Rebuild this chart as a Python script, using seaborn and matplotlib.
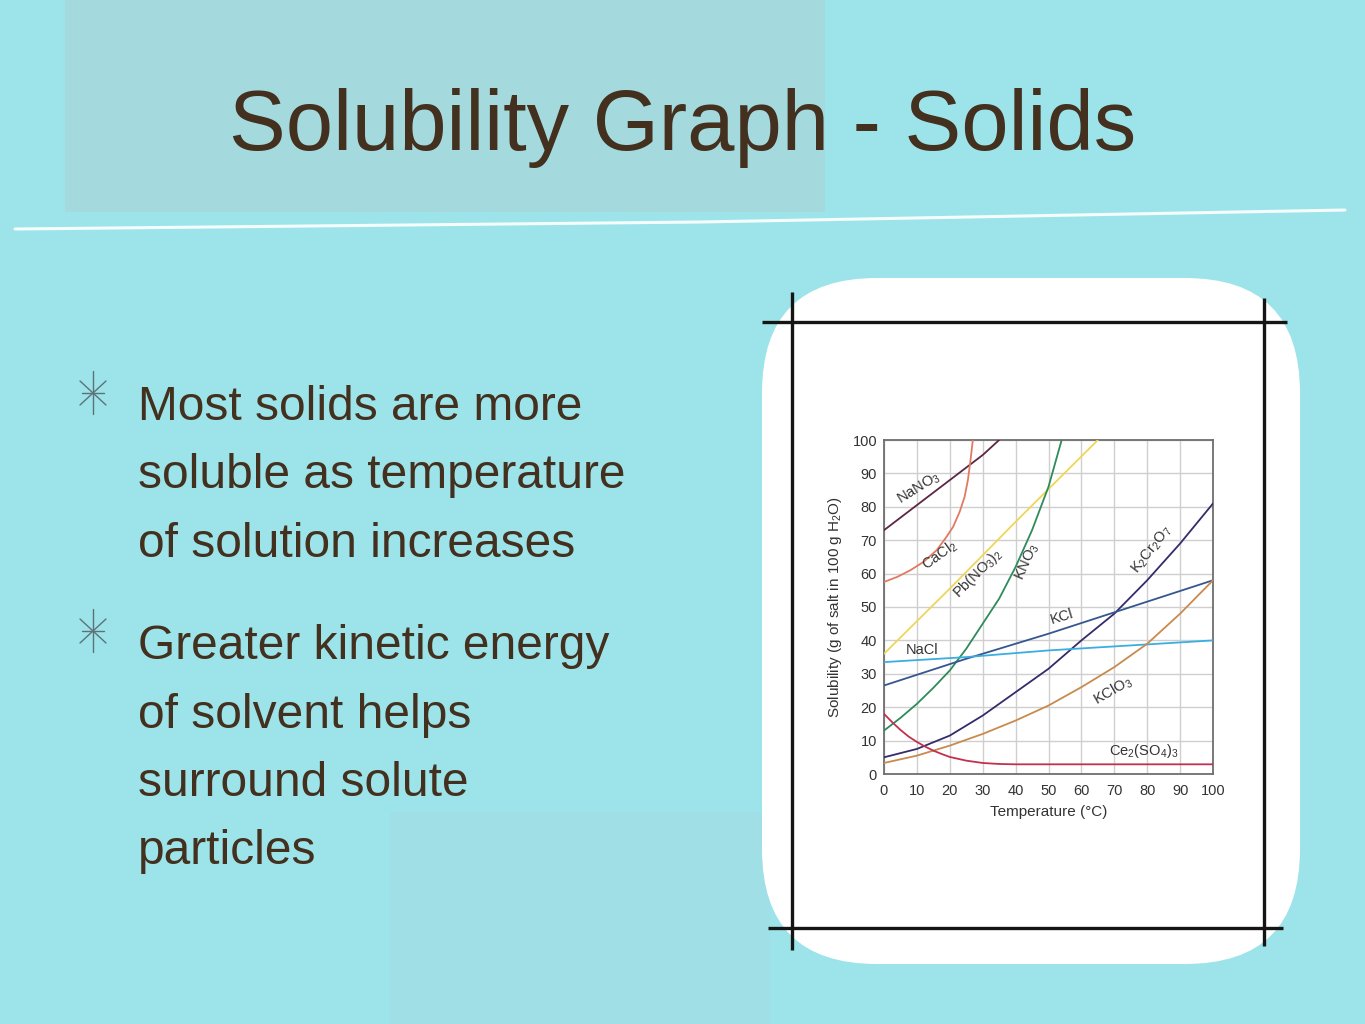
import numpy as np
import pandas as pd
import matplotlib
matplotlib.use("Agg")
import matplotlib.pyplot as plt
from matplotlib.patches import FancyBboxPatch, Rectangle
import seaborn as sns

# ---------------- data ----------------
nano3_t = [0, 10, 20, 30, 35]
nano3_s = [73, 80.5, 88, 95.5, 100]
cacl2_t = [0, 4, 8, 12, 16, 19, 21, 23, 24.5, 25.5, 26.3, 27]
cacl2_s = [57.5, 59, 61, 63.5, 67, 71, 74, 78.5, 83, 88, 94, 100]
pbno32_t = [0, 20, 40, 65]
pbno32_s = [36, 55.5, 75.5, 100]
kno3_t = [0, 5, 10, 15, 20, 25, 30, 35, 40, 45, 50, 54]
kno3_s = [13, 16.8, 21, 25.8, 31, 37.5, 45, 52.5, 62, 73, 86, 100]
k2cr2o7_t = [0, 10, 20, 30, 40, 50, 60, 70, 80, 90, 100]
k2cr2o7_s = [5, 7.5, 11.5, 17.5, 24.5, 31.5, 40, 48, 58, 69, 81]
kcl_t = [0, 25, 50, 75, 100]
kcl_s = [26.5, 34.5, 42, 50, 58]
nacl_t = [0, 25, 50, 75, 100]
nacl_s = [33.5, 35, 37, 38.5, 40]
kclo3_t = [0, 10, 20, 30, 40, 50, 60, 70, 80, 90, 100]
kclo3_s = [3.3, 5.5, 8.5, 12, 16, 20.5, 26, 32, 39, 48, 58]
ce2so43_t = [0, 2.5, 5, 7.5, 10, 12.5, 15, 17.5, 20, 25, 30, 35, 40, 60, 80, 100]
ce2so43_s = [18, 15.5, 13.2, 11.2, 9.6, 8.2, 7, 6, 5.1, 4, 3.3, 3, 2.9, 2.9, 2.9, 2.9]

salts = ["NaNO3", "CaCl2", "Pb(NO3)2", "KNO3", "K2Cr2O7", "KCl", "NaCl", "KClO3", "Ce2(SO4)3"]
temps = [nano3_t, cacl2_t, pbno32_t, kno3_t, k2cr2o7_t, kcl_t, nacl_t, kclo3_t, ce2so43_t]
sols = [nano3_s, cacl2_s, pbno32_s, kno3_s, k2cr2o7_s, kcl_s, nacl_s, kclo3_s, ce2so43_s]

label_text = ["NaNO$_3$", "CaCl$_2$", "Pb(NO$_3$)$_2$", "KNO$_3$", "K$_2$Cr$_2$O$_7$",
              "KCl", "NaCl", "KClO$_3$", "Ce$_2$(SO$_4$)$_3$"]
label_t = [10.5, 17, 28.5, 43.5, 81.5, 54, 11.5, 69.5, 79]
label_s = [85.5, 65.5, 60, 63.5, 67, 47, 37, 25, 6.8]
label_rot = [32, 36, 45, 66, 52, 17, 0, 30, 0]

palette = {
    "NaNO3": "#5b2744", "CaCl2": "#e27a62", "Pb(NO3)2": "#f0d656", "KNO3": "#2f8a5c",
    "K2Cr2O7": "#372a6b", "KCl": "#35568e", "NaCl": "#3aaee0", "KClO3": "#c98a4e",
    "Ce2(SO4)3": "#c2304f",
}

df = pd.concat([pd.DataFrame({"salt": s, "T": t, "S": v}) for s, t, v in zip(salts, temps, sols)],
               ignore_index=True)

# ---------------- figure ----------------
sns.set_theme(style="white")
plt.rcParams["font.family"] = ["Liberation Sans", "DejaVu Sans"]
plt.rcParams["mathtext.default"] = "regular"

W, H = 1365, 1024
fig = plt.figure(figsize=(W / 100, H / 100), dpi=100)
fig.patch.set_facecolor("#9de4ea")

bg = fig.add_axes([0, 0, 1, 1])
bg.set_xlim(0, W)
bg.set_ylim(H, 0)
bg.axis("off")
bg.set_facecolor("none")

# textured patches
bg.add_patch(Rectangle((65, -5), 760, 217, facecolor="#a9d4d7", edgecolor="none", alpha=0.6, zorder=0))
bg.add_patch(Rectangle((390, 812), 380, 220, facecolor="#a4d8dc", edgecolor="none", alpha=0.35, zorder=0))
# white streak
bg.plot([15, 700, 1345], [229, 222, 210], color="white", lw=2.2, alpha=0.9, zorder=1,
        solid_capstyle="round")

# title
bg.text(683, 150, "Solubility Graph - Solids", fontsize=61.2, color="#43301f",
        ha="center", va="baseline", zorder=3)

# bullets
def star(cx, cy):
    c = "#5c7278"
    bg.plot([cx, cx], [cy - 22, cy + 21], color=c, lw=1, zorder=3)
    bg.plot([cx - 11, cx + 11], [cy, cy], color=c, lw=1, zorder=3)
    bg.plot([cx - 13, cx + 13], [cy - 12, cy + 12], color=c, lw=1, zorder=3)
    bg.plot([cx - 13, cx + 13], [cy + 12, cy - 12], color=c, lw=1, zorder=3)

star(93, 393)
star(93, 631)
lines1 = ["Most solids are more", "soluble as temperature", "of solution increases"]
lines2 = ["Greater kinetic energy", "of solvent helps", "surround solute", "particles"]
for i, s in enumerate(lines1):
    bg.text(138, 420 + i * 68.5, s, fontsize=34.5, color="#43301f", ha="left", va="baseline", zorder=3)
for i, s in enumerate(lines2):
    bg.text(138, 659 + i * 68.5, s, fontsize=34.5, color="#43301f", ha="left", va="baseline", zorder=3)

# white blob and frame
bg.add_patch(FancyBboxPatch((782, 298), 498, 646, boxstyle="round,pad=20,rounding_size=115",
                            facecolor="white", edgecolor="none", zorder=1))
bg.add_patch(Rectangle((792, 322), 472, 606, facecolor="white", edgecolor="none", zorder=1.5))
fk = dict(color="#151515", lw=2.4, zorder=2, solid_capstyle="butt")
bg.plot([792, 792], [292, 950], **fk)
bg.plot([1264, 1264], [298, 946], **fk)
bg.plot([762, 1287], [322, 322], **fk)
bg.plot([768, 1283], [928, 928], **fk)

# ---------------- chart ----------------
ax = fig.add_axes([884 / W, 1 - 774 / H, 329 / W, 334 / H])
ax.set_facecolor("white")
sns.lineplot(data=df, x="T", y="S", hue="salt", palette=palette, estimator=None,
             sort=False, lw=1.3, legend=False, ax=ax, zorder=3)
ax.set_xlim(0, 100)
ax.set_ylim(0, 100)
ax.set_xticks(range(0, 101, 10))
ax.set_yticks(range(0, 101, 10))
ax.grid(True, color="#cfcfcf", lw=1)
ax.set_axisbelow(True)
for sp in ax.spines.values():
    sp.set_color("#6e6e6e")
    sp.set_linewidth(1.3)
ax.tick_params(length=0, labelsize=10.5, labelcolor="#333333", pad=5)
ax.tick_params(axis="x", pad=7)
ax.set_xlabel("Temperature (°C)", fontsize=11, color="#333333", labelpad=5)
ax.set_ylabel("Solubility (g of salt in 100 g H$_2$O)", fontsize=11, color="#333333", labelpad=6)

for txt, t, s, r in zip(label_text, label_t, label_s, label_rot):
    ax.text(t, s, txt, fontsize=10.5, color="#333333", rotation=r, ha="center", va="center",
            rotation_mode="anchor", zorder=4)

fig.savefig("out.png", dpi=100, facecolor=fig.get_facecolor())
